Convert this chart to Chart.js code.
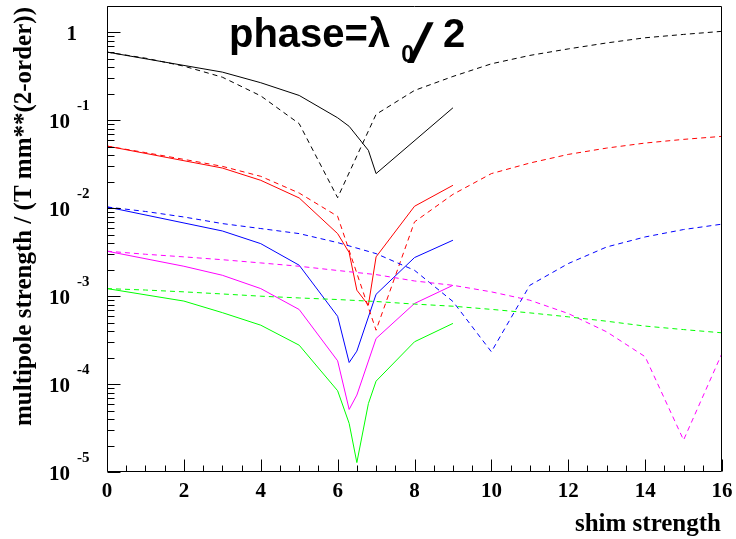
<!DOCTYPE html>
<html><head><meta charset="utf-8">
<script src="https://cdn.jsdelivr.net/npm/chart.js@4"></script>
<style>html,body{margin:0;padding:0;background:#fff;}canvas{display:block;}</style>
</head><body>
<canvas id="c" width="736" height="539"></canvas>
<script>
// ---- data ----
const xSolid  = [0, 1, 2, 3, 4, 5, 6, 6.3, 6.5, 6.8, 7, 8, 9];
const xDashed = [0, 1, 2, 3, 4, 5, 6, 7, 8, 9, 10, 11, 12, 13, 14, 15, 16];

const blackSolid   = [0.598, null, null, 0.354, 0.268, 0.192, 0.107, 0.0855, null, 0.0456, 0.0248, null, 0.139];
const redSolid     = [0.051, null, null, 0.0287, 0.0208, 0.0131, 0.00515, 0.00313, 0.00117, 0.00079, 0.0028, 0.01054, 0.01825];
const blueSolid    = [0.01035, null, null, 0.00552, 0.00396, 0.00225, 0.00059, 0.000176, 0.000237, null, 0.00105, 0.00275, 0.00433];
const magentaSolid = [0.00325, null, 0.00219, 0.00173, 0.00122, 0.000705, 0.000184, 0.0000515, 0.000075, null, 0.00033, 0.000826, 0.00133];
const greenSolid   = [0.00122, null, 0.00088, 0.00065, 0.000468, 0.000277, 0.000084, 0.0000357, 0.0000128, 0.00006, 0.000108, 0.000303, 0.00049];

const blackDashed   = [0.598, 0.51, 0.414, 0.31, 0.19, 0.0917, 0.0132, 0.117, 0.219, 0.316, 0.44, 0.548, 0.65, 0.76, 0.87, 0.95, 1.03];
const redDashed     = [0.051, 0.043, 0.036, 0.030, 0.0231, 0.0149, 0.0081, 0.00041, 0.0070, 0.0144, 0.0248, 0.0327, 0.041, 0.0484, 0.0552, 0.0608, 0.0658];
const blueDashed    = [0.01035, 0.0092, 0.00796, 0.0067, 0.00588, 0.00515, 0.00407, 0.00305, 0.00197, 0.00087, 0.000233, 0.00133, 0.00235, 0.00363, 0.00472, 0.00573, 0.0066];
const magentaDashed = [0.00325, 0.003, 0.0028, 0.0026, 0.00239, 0.00219, 0.00196, 0.00176, 0.00149, 0.00133, 0.00112, 0.0009, 0.000635, 0.000393, 0.000205, 0.0000231, 0.000224];
const greenDashed   = [0.00122, 0.001175, 0.00112, 0.00106, 0.001, 0.000955, 0.000916, 0.00087, 0.000813, 0.000769, 0.000708, 0.000646, 0.000582, 0.000519, 0.000457, 0.000417, 0.000383];

const xTickValues = [0, 2, 4, 6, 8, 10, 12, 14, 16];
const xTickLabels = ['0', '2', '4', '6', '8', '10', '12', '14', '16'];
const yTickValues = [1e-5, 1e-4, 1e-3, 1e-2, 1e-1, 1];
const yTickBases  = ['10', '10', '10', '10', '10', '1'];
const yTickExps   = ['-5', '-4', '-3', '-2', '-1', ''];

const titleMain = 'phase=\u03bb';
const titleSub = '0';
const titleSlash = '/';
const titleEnd = '2';
const xTitle = 'shim strength';
const yTitle = 'multipole strength / (T mm**(2-order))';

// ---- build ----
function pts(xs, ys) { return xs.map((x, i) => ({ x: x, y: ys[i] })); }
function ds(xs, ys, color, dashed) {
  return {
    data: pts(xs, ys), borderColor: color, borderWidth: 1,
    borderDash: dashed ? [5, 4] : [], pointRadius: 0, tension: 0,
    spanGaps: true, fill: false
  };
}
const datasets = [
  ds(xDashed, greenDashed, '#00ff00', true),
  ds(xDashed, magentaDashed, '#ff00ff', true),
  ds(xDashed, blueDashed, '#0000ff', true),
  ds(xDashed, redDashed, '#ff0000', true),
  ds(xDashed, blackDashed, '#000000', true),
  ds(xSolid, greenSolid, '#00ff00', false),
  ds(xSolid, magentaSolid, '#ff00ff', false),
  ds(xSolid, blueSolid, '#0000ff', false),
  ds(xSolid, redSolid, '#ff0000', false),
  ds(xSolid, blackSolid, '#000000', false)
];

const serif = '"Liberation Serif", "Times New Roman", serif';
const sans = '"Liberation Sans", Arial, sans-serif';

const decor = {
  id: 'decor',
  afterDraw(chart) {
    const ctx = chart.ctx, a = chart.chartArea;
    const xs = chart.scales.x, ys = chart.scales.y;
    const L = Math.round(a.left) + 0.5, R = Math.round(a.right) - 0.5;
    const T = Math.round(a.top) + 0.5, B = Math.round(a.bottom) - 0.5;
    ctx.save();
    ctx.strokeStyle = '#000'; ctx.lineWidth = 1;
    ctx.beginPath();
    ctx.moveTo(L, T); ctx.lineTo(R, T); ctx.lineTo(R, B); ctx.lineTo(L, B); ctx.closePath();
    ctx.stroke();
    // x ticks
    ctx.beginPath();
    for (let v = 0; v <= 16.0001; v += 0.5) {
      const px = Math.round(xs.getPixelForValue(v)) + 0.5;
      const len = (Math.abs(v / 2 - Math.round(v / 2)) < 1e-6) ? 12 : 6;
      ctx.moveTo(px, B); ctx.lineTo(px, B - len);
    }
    // y ticks
    for (let e = -5; e <= 0; e++) {
      for (let m = 1; m <= 9; m++) {
        const v = m * Math.pow(10, e);
        if (v > ys.max) continue;
        const py = Math.round(ys.getPixelForValue(v)) + 0.5;
        const len = m === 1 ? 13 : 7;
        ctx.moveTo(L, py); ctx.lineTo(L + len, py);
      }
    }
    ctx.stroke();
    ctx.fillStyle = '#000';
    // x labels
    ctx.font = 'bold 21px ' + serif;
    ctx.textAlign = 'center'; ctx.textBaseline = 'alphabetic';
    xTickValues.forEach((v, i) => {
      ctx.fillText(xTickLabels[i], xs.getPixelForValue(v), 497);
    });
    // y labels
    yTickValues.forEach((v, i) => {
      const py = ys.getPixelForValue(v);
      ctx.font = 'bold 21px ' + serif;
      ctx.textAlign = 'right';
      if (yTickExps[i]) {
        ctx.fillText(yTickBases[i], 70, py + 7.5);
        ctx.font = 'bold 15px ' + serif;
        ctx.textAlign = 'left';
        ctx.fillText(yTickExps[i], 77, py - 10);
      } else {
        ctx.fillText(yTickBases[i], 77, py + 7.5);
      }
    });
    // axis titles
    ctx.font = 'bold 25px ' + serif;
    ctx.textAlign = 'right';
    ctx.fillText(xTitle, 721, 531);
    ctx.save();
    ctx.translate(31, 216.5);
    ctx.rotate(-Math.PI / 2);
    ctx.textAlign = 'center';
    ctx.fillText(yTitle, 0, 0);
    ctx.restore();
    // main title
    ctx.textAlign = 'left';
    ctx.font = 'bold 40px ' + sans;
    let x0 = 229;
    ctx.fillText(titleMain, x0, 47);
    x0 += ctx.measureText(titleMain).width;
    ctx.font = 'bold 23px ' + sans;
    ctx.fillText(titleSub, x0 + 11, 62);
    ctx.save();
    ctx.translate(407, 62);
    ctx.transform(1, 0, -0.3, 1, 0, 0);
    ctx.font = 'bold 55px ' + sans;
    ctx.fillText(titleSlash, 0, 0);
    ctx.restore();
    ctx.font = 'bold 40px ' + sans;
    ctx.fillText(titleEnd, 443, 47);
    ctx.restore();
  }
};

new Chart(document.getElementById('c'), {
  type: 'line',
  data: { datasets: datasets },
  options: {
    responsive: false, animation: false, devicePixelRatio: 1,
    layout: { padding: { left: 107, right: 14, top: 6, bottom: 67 } },
    plugins: { legend: { display: false }, tooltip: { enabled: false }, title: { display: false } },
    scales: {
      x: { type: 'linear', min: 0, max: 16, display: false },
      y: { type: 'logarithmic', min: 1e-5, max: 2, display: false }
    }
  },
  plugins: [decor]
});
</script>
</body></html>
